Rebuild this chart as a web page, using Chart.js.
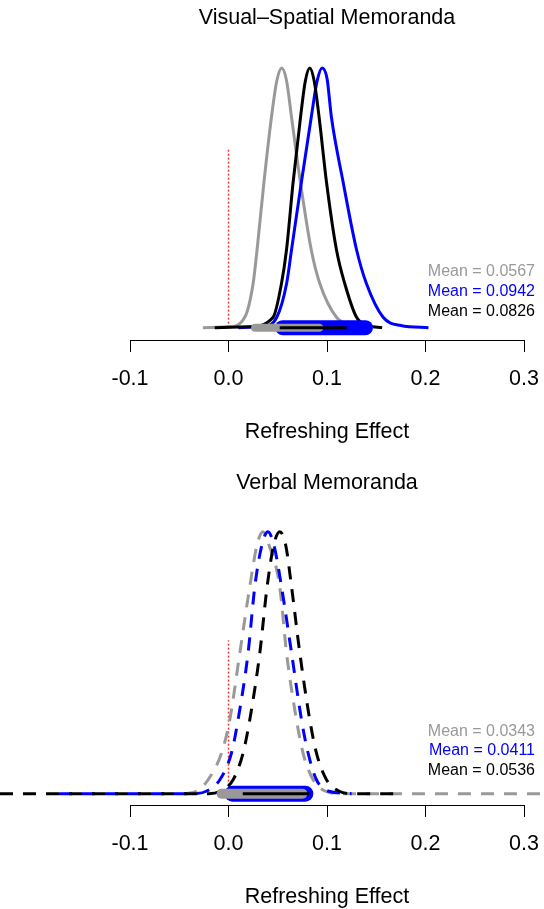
<!DOCTYPE html>
<html>
<head>
<meta charset="utf-8">
<script src="https://cdn.jsdelivr.net/npm/chart.js@4.4.0/dist/chart.umd.min.js"></script>
<style>
    html, body { margin: 0; padding: 0; background: #fff; overflow: hidden; }
    .panel { position: absolute; left: 0; width: 544px; height: 465px; }
</style>
</head>
<body>
<div class="panel" style="top:0"><canvas id="visualChart" width="544" height="465"></canvas></div>
<div class="panel" style="top:465px"><canvas id="verbalChart" width="544" height="465"></canvas></div>
<script>
/* ---------- data ---------- */
const xTicks = [-0.1, 0.0, 0.1, 0.2, 0.3];
const seriesColors = ['#999999', '#0000ff', '#000000'];   // gray, blue, black

// Visual-Spatial memoranda (density, scaled so peak = 1)
const visualMeans = [0.0567, 0.0942, 0.0826];
const visGrayX  = [-0.026, 0.000, 0.0165, 0.025, 0.029, 0.036, 0.0436, 0.049, 0.054, 0.059, 0.064, 0.073, 0.084, 0.0927, 0.1096, 0.125, 0.140];
const visGrayY  = [0, 0.003, 0.04, 0.17, 0.30, 0.56, 0.81, 0.95, 1.0, 0.95, 0.81, 0.56, 0.30, 0.17, 0.04, 0.008, 0];
const visBlueX  = [0.010, 0.035, 0.049, 0.059, 0.064, 0.074, 0.084, 0.090, 0.095, 0.100, 0.1045, 0.1164, 0.130, 0.140, 0.157, 0.175, 0.203];
const visBlueY  = [0, 0.005, 0.04, 0.17, 0.30, 0.56, 0.81, 0.95, 1.0, 0.96, 0.81, 0.56, 0.30, 0.17, 0.04, 0.008, 0];
const visBlackX = [-0.014, 0.020, 0.0453, 0.0538, 0.0589, 0.0656, 0.0731, 0.078, 0.0825, 0.087, 0.092, 0.0995, 0.1096, 0.118, 0.130, 0.142, 0.156];
const visBlackY = [0, 0.003, 0.04, 0.17, 0.30, 0.56, 0.81, 0.95, 1.0, 0.95, 0.81, 0.56, 0.30, 0.17, 0.04, 0.008, 0];
// intervals drawn on the baseline [from, to]
const visGrayHdi  = [0.027, 0.092];
const visBlueHdi  = [0.055, 0.139];
const visBlackHdi = [0.052, 0.120];
const visZeroLine = 0.69;

// Verbal memoranda
const verbalMeans = [0.0343, 0.0411, 0.0536];
const verGrayX  = [-0.045, -0.032, -0.0207, -0.0071, 0.0013, 0.0115, 0.0216, 0.029, 0.035, 0.041, 0.052, 0.0589, 0.069, 0.0757, 0.0859, 0.098, 0.115, 0.32];
const verGrayY  = [0, 0.01, 0.053, 0.155, 0.282, 0.537, 0.79, 0.95, 1.0, 0.95, 0.79, 0.537, 0.282, 0.155, 0.053, 0.01, 0, 0];
const verBlueX  = [-0.1721, -0.035, -0.022, -0.0088, 0.003, 0.0097, 0.0199, 0.0267, 0.034, 0.040, 0.046, 0.0538, 0.064, 0.0741, 0.0808, 0.0893, 0.101, 0.125];
const verBlueY  = [0, 0, 0.01, 0.053, 0.155, 0.282, 0.537, 0.79, 0.95, 1.0, 0.95, 0.79, 0.537, 0.282, 0.155, 0.053, 0.01, 0];
const verBlackX = [-0.232, -0.020, -0.008, 0.0047, 0.0148, 0.0216, 0.0318, 0.0392, 0.046, 0.052, 0.058, 0.064, 0.0724, 0.0825, 0.0893, 0.0995, 0.112, 0.125, 0.177];
const verBlackY = [0, 0, 0.01, 0.053, 0.155, 0.282, 0.537, 0.79, 0.95, 1.0, 0.95, 0.79, 0.537, 0.282, 0.155, 0.053, 0.01, 0, 0];
const verGrayHdi  = [-0.007, 0.075];
const verBlueHdi  = [0.004, 0.078];
const verBlackHdi = [0.0145, 0.082];
const verZeroLine = 0.585;

/* ---------- helpers ---------- */
const FONT = '"Liberation Sans", Arial, Helvetica, sans-serif';
const DASH = [13, 10];

function toPoints(xs, ys) {
    return xs.map((x, i) => ({ x: x, y: ys[i] }));
}

function curve(xs, ys, color, dash) {
    return {
        data: toPoints(xs, ys),
        borderColor: color,
        borderWidth: 3,
        borderDash: dash || [],
        pointRadius: 0,
        cubicInterpolationMode: 'monotone',
        fill: false,
        clip: false
    };
}

function interval(range, color, width, cap) {
    return {
        data: [{ x: range[0], y: 0 }, { x: range[1], y: 0 }],
        borderColor: color,
        borderWidth: width,
        borderCapStyle: cap,
        pointRadius: 0,
        tension: 0,
        fill: false,
        clip: false
    };
}

function zeroLine(top) {
    return {
        data: [{ x: 0, y: 0 }, { x: 0, y: top }],
        borderColor: '#ff3030',
        borderWidth: 1.5,
        borderDash: [2, 2],
        pointRadius: 0,
        tension: 0,
        fill: false,
        clip: false
    };
}

// "Mean = ..." labels, right aligned
const meanLabels = {
    id: 'meanLabels',
    afterDraw(chart, args, opts) {
        const ctx = chart.ctx;
        ctx.save();
        ctx.font = '16px ' + FONT;
        ctx.textAlign = 'right';
        ctx.textBaseline = 'middle';
        opts.means.forEach((m, i) => {
            ctx.fillStyle = seriesColors[i];
            ctx.fillText('Mean = ' + m.toFixed(4), opts.x, opts.y + i * opts.step);
        });
        ctx.restore();
    }
};

function makeChart(id, title, datasets, yMin, yMax, means, labelY, labelStep) {
    return new Chart(document.getElementById(id), {
        type: 'line',
        data: { datasets: datasets },
        plugins: [meanLabels],
        options: {
            responsive: false,
            animation: false,
            layout: { padding: { left: 130, right: 20, top: 0, bottom: 0 } },
            plugins: {
                legend: { display: false },
                tooltip: { enabled: false },
                title: {
                    display: true,
                    text: title,
                    color: '#000',
                    font: { family: FONT, size: 21.5, weight: 'normal' },
                    padding: { top: 5, bottom: 10 }
                },
                meanLabels: { means: means, x: 535, y: labelY, step: labelStep }
            },
            scales: {
                x: {
                    type: 'linear',
                    min: xTicks[0],
                    max: xTicks[xTicks.length - 1],
                    afterBuildTicks: axis => { axis.ticks = xTicks.map(v => ({ value: v })); },
                    ticks: {
                        color: '#000',
                        padding: 3,
                        maxRotation: 0,
                        font: { family: FONT, size: 21.5, lineHeight: 2.25 },
                        callback: v => v.toFixed(1)
                    },
                    grid: { drawOnChartArea: false, drawTicks: true, tickLength: 12, color: '#000', lineWidth: 1 },
                    border: { display: true, color: '#000', width: 1 },
                    title: {
                        display: true,
                        text: 'Refreshing Effect',
                        color: '#000',
                        font: { family: FONT, size: 21.5 },
                        padding: { top: 12.8, bottom: 20 }
                    }
                },
                y: { display: false, min: yMin, max: yMax }
            }
        }
    });
}

/* ---------- top: Visual-Spatial ---------- */
makeChart('visualChart', 'Visual\u2013Spatial Memoranda', [
    interval(visBlackHdi, seriesColors[2], 3, 'butt'),
    interval(visGrayHdi, seriesColors[0], 8, 'round'),
    interval(visBlueHdi, seriesColors[1], 15, 'round'),
    curve(visBlackX, visBlackY, seriesColors[2]),
    curve(visBlueX, visBlueY, seriesColors[1]),
    curve(visGrayX, visGrayY, seriesColors[0]),
    zeroLine(visZeroLine)
], -0.0477, 1.1046, visualMeans, 271.7, 20);

/* ---------- bottom: Verbal ---------- */
makeChart('verbalChart', 'Verbal Memoranda', [
    interval(verBlackHdi, seriesColors[2], 3, 'butt'),
    interval(verGrayHdi, seriesColors[0], 10, 'round'),
    interval(verBlueHdi, seriesColors[1], 16, 'round'),
    curve(verBlackX, verBlackY, seriesColors[2], DASH),
    curve(verBlueX, verBlueY, seriesColors[1], DASH),
    curve(verGrayX, verGrayY, seriesColors[0], DASH),
    zeroLine(verZeroLine)
], -0.0435, 1.0987, verbalMeans, 266.7, 19.2);
</script>
</body>
</html>
